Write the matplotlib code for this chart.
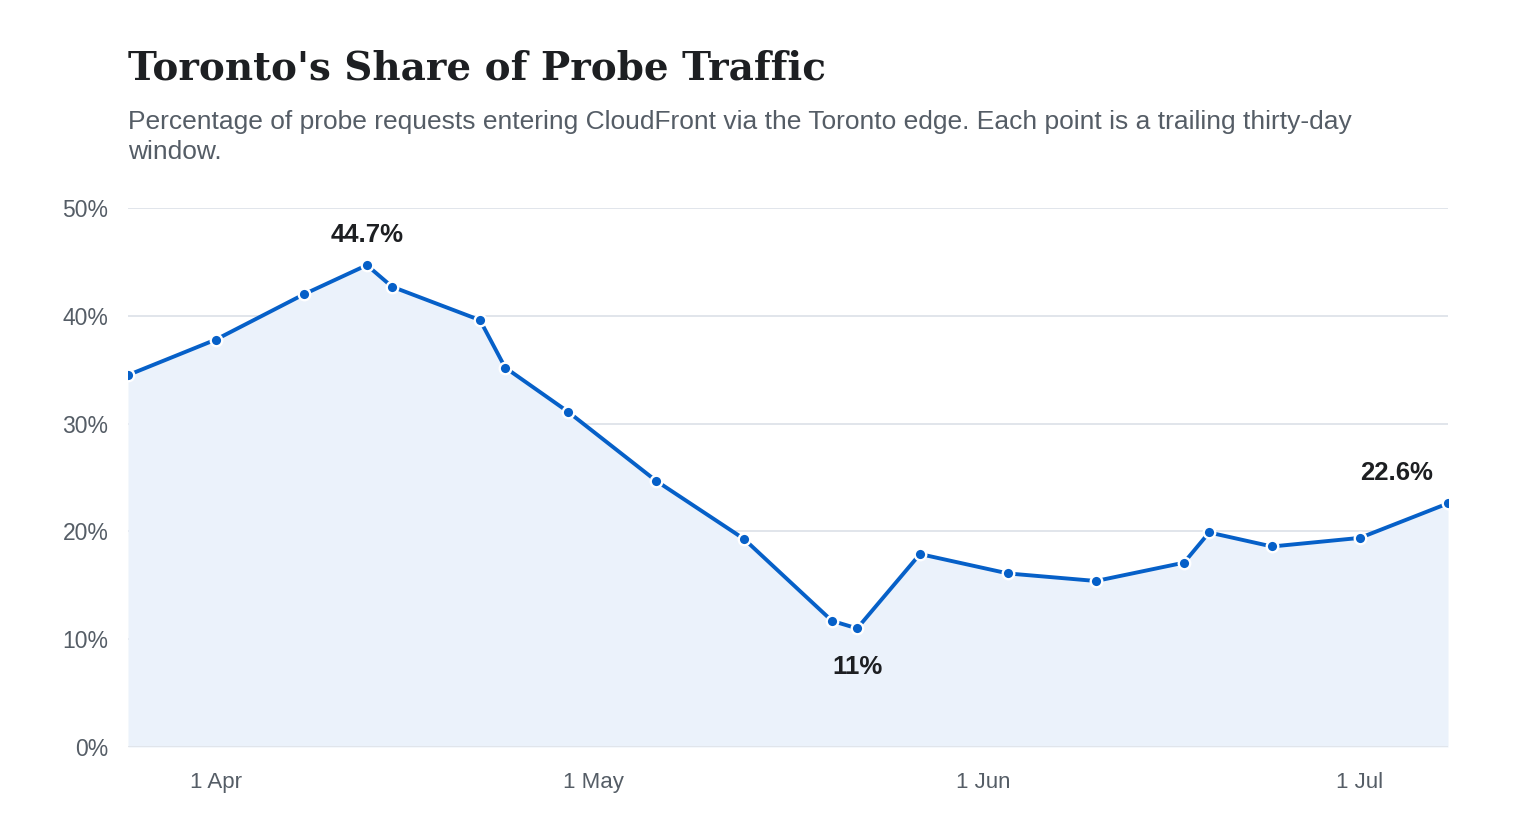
import matplotlib
matplotlib.use("Agg")
import matplotlib.pyplot as plt
import matplotlib.dates as mdates
import numpy as np
from datetime import date

# data (trailing 30-day window share, %)
dates = [date(2024, 3, 25), date(2024, 4, 1), date(2024, 4, 8), date(2024, 4, 13),
         date(2024, 4, 15), date(2024, 4, 22), date(2024, 4, 24), date(2024, 4, 29),
         date(2024, 5, 6), date(2024, 5, 13), date(2024, 5, 20), date(2024, 5, 22),
         date(2024, 5, 27), date(2024, 6, 3), date(2024, 6, 10), date(2024, 6, 17),
         date(2024, 6, 19), date(2024, 6, 24), date(2024, 7, 1), date(2024, 7, 8)]
share = [34.5, 37.8, 42.0, 44.7, 42.7, 39.6, 35.2, 31.1, 24.7, 19.3,
         11.7, 11.0, 17.9, 16.1, 15.4, 17.1, 19.9, 18.6, 19.4, 22.6]

tick_dates = [date(2024, 4, 1), date(2024, 5, 1), date(2024, 6, 1), date(2024, 7, 1)]
tick_labels = ["1 Apr", "1 May", "1 Jun", "1 Jul"]
y_ticks = [0, 10, 20, 30, 40, 50]

LINE = "#0660c8"
FILL = "#ebf2fb"
GRID = "#e1e5eb"
TICK = "#555d66"
DARK = "#1d1f22"

fig = plt.figure(figsize=(15.36, 8.4), dpi=100)
ax = fig.add_axes([128/1536, 93/840, 1320/1536, 539/840])

x = mdates.date2num(dates)
y = np.array(share)

ax.fill_between(x, 0, y, color=FILL, lw=0, zorder=1)
ax.plot(x, y, color=LINE, lw=2.8, zorder=3, solid_joinstyle="round")
ax.plot(x, y, "o", ms=8.3, mfc=LINE, mec="white", mew=1.7, zorder=4, ls="none")

ax.set_xlim(x[0], x[-1])
ax.set_ylim(0, 50)
ax.set_yticks(y_ticks)
ax.set_yticklabels([f"{v}%" for v in y_ticks])
ax.set_xticks(mdates.date2num(tick_dates))
ax.set_xticklabels(tick_labels)

for v in y_ticks:
    ax.axhline(v, color=GRID, lw=1.4, zorder=0.5 if v else 2)

for s in ax.spines.values():
    s.set_visible(False)
ax.tick_params(axis="y", length=0, labelsize=16.5, labelcolor=TICK, pad=14)
ax.tick_params(axis="x", length=0, labelsize=16, labelcolor=TICK, pad=18)
for lab in ax.get_xticklabels() + ax.get_yticklabels():
    lab.set_fontfamily("Liberation Sans")

# value callouts: max, min, last
i_max = int(np.argmax(y))
i_min = int(np.argmin(y))
i_last = len(y) - 1
callouts = [(i_max, (0, 22), "center"), (i_min, (0, -28), "center"), (i_last, (-11, 22), "right")]
for i, off, ha in callouts:
    ax.annotate(f"{y[i]:g}%", (x[i], y[i]), xytext=off, textcoords="offset points",
                ha=ha, va="center", fontsize=18.5, fontweight="bold", color=DARK,
                family="Liberation Sans")

fig.text(128/1536, 1 - 68/840, "Toronto's Share of Probe Traffic", ha="left", va="center",
         fontsize=28, fontweight="bold", color=DARK, family="DejaVu Serif")
fig.text(128/1536, 1 - 137/840,
         "Percentage of probe requests entering CloudFront via the Toronto edge. Each point is a trailing thirty-day\nwindow.",
         ha="left", va="center", fontsize=19, color=TICK, family="Liberation Sans",
         linespacing=1.33)

fig.savefig("out.png", dpi=100, facecolor="white")
